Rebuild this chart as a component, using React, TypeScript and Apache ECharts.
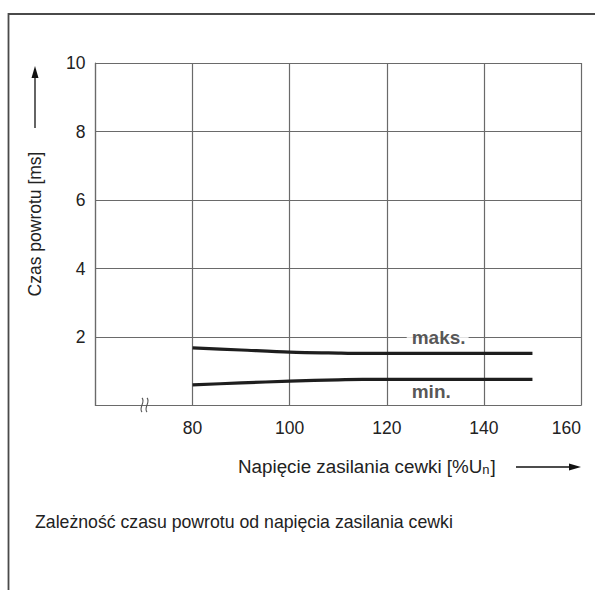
import React, { useEffect, useRef } from "react";
import * as echarts from "echarts";

const xTicks = [60, 80, 100, 120, 140, 160];
const yTicks = [0, 2, 4, 6, 8, 10];
const maxSeries: [number, number][] = [
  [80, 1.68], [90, 1.62], [100, 1.56], [110, 1.53], [115, 1.52], [150, 1.52],
];
const minSeries: [number, number][] = [
  [80, 0.6], [90, 0.66], [100, 0.71], [110, 0.75], [115, 0.76], [150, 0.76],
];
const curveLabels: [number, number, string][] = [
  [124.0, 2.0, "maks."],
  [124.0, 0.4, "min."],
];
const yTitle = "Czas powrotu [ms]";
const xTitleMain = "Napięcie zasilania cewki [%U";
const xTitleSub = "n";
const xTitleEnd = "]";
const caption = "Zależność czasu powrotu od napięcia zasilania cewki";

const FONT = "'Liberation Sans', Arial, sans-serif";

export default function App() {
  const ref = useRef<HTMLDivElement>(null);
  useEffect(() => {
    const chart = echarts.init(ref.current!, null, { renderer: "svg" });
    const gridL = 95.5, gridT = 63, gridR = 581, gridB = 405.5;
    chart.setOption({
      animation: false,
      backgroundColor: "#fff",
      grid: { left: gridL, top: gridT, width: gridR - gridL, height: gridB - gridT },
      xAxis: {
        type: "value",
        min: xTicks[0],
        max: xTicks[xTicks.length - 1],
        interval: 20,
        axisLine: { show: true, lineStyle: { color: "#6a6a6a", width: 1.2 } },
        axisTick: { show: false },
        splitLine: { show: true, lineStyle: { color: "#6a6a6a", width: 1.2 } },
        axisLabel: {
          color: "#222",
          fontFamily: FONT,
          fontSize: 17.5,
          margin: 13,
          alignMaxLabel: "right",
          formatter: (v: number) => (v === xTicks[0] ? "" : String(v)),
        },
      },
      yAxis: {
        type: "value",
        min: yTicks[0],
        max: yTicks[yTicks.length - 1],
        interval: 2,
        axisLine: { show: true, lineStyle: { color: "#6a6a6a", width: 1.2 } },
        axisTick: { show: false },
        splitLine: { show: true, lineStyle: { color: "#6a6a6a", width: 1.2 } },
        axisLabel: {
          color: "#222",
          fontFamily: FONT,
          fontSize: 17.5,
          margin: 10,
          formatter: (v: number) => (v === yTicks[0] ? "" : String(v)),
        },
      },
      series: [
        {
          type: "line",
          data: maxSeries,
          smooth: 0.3,
          symbol: "none",
          lineStyle: { color: "#1e1e1e", width: 3.2 },
        },
        {
          type: "line",
          data: minSeries,
          smooth: 0.3,
          symbol: "none",
          lineStyle: { color: "#1e1e1e", width: 3.2 },
        },
        {
          type: "scatter",
          data: curveLabels,
          symbolSize: 1,
          itemStyle: { color: "rgba(0,0,0,0)" },
          z: 5,
          label: {
            show: true,
            position: "right",
            distance: 0,
            formatter: (p: any) => p.data[2],
            color: "#2a2a2a",
            fontFamily: FONT,
            fontWeight: "bold",
            fontSize: 19,
            backgroundColor: "#fff",
            padding: [1, 3, 1, 5],
          },
        },
      ],
      graphic: [
        {
          type: "rect",
          shape: { x: 8.5, y: 14, width: 700, height: 700 },
          style: { fill: "none", stroke: "#4a4a4a", lineWidth: 1.8 },
          z: -1,
        },
        // break mark
        {
          type: "bezierCurve",
          shape: { x1: 142, y1: 398, cpx1: 146, cpy1: 402, cpx2: 138, cpy2: 408, x2: 142, y2: 412 },
          style: { stroke: "#555", lineWidth: 1.1, fill: "none" },
          z: 10,
        },
        {
          type: "bezierCurve",
          shape: { x1: 147, y1: 398, cpx1: 151, cpy1: 402, cpx2: 143, cpy2: 408, x2: 147, y2: 412 },
          style: { stroke: "#555", lineWidth: 1.1, fill: "none" },
          z: 10,
        },
        // y title + arrow
        {
          type: "text",
          x: 35,
          y: 224,
          rotation: Math.PI / 2,
          style: {
            text: yTitle,
            fill: "#222",
            font: `17.5px ${FONT}`,
            align: "center",
            verticalAlign: "middle",
          },
        },
        {
          type: "line",
          shape: { x1: 35, y1: 128, x2: 35, y2: 76 },
          style: { stroke: "#111", lineWidth: 1.3 },
        },
        {
          type: "polygon",
          shape: { points: [[35, 66], [31.5, 78], [38.5, 78]] },
          style: { fill: "#111" },
        },
        // x title + arrow
        {
          type: "text",
          x: 238,
          y: 466,
          style: {
            text: `{m|${xTitleMain}}{s|${xTitleSub}}{m|${xTitleEnd}}`,
            align: "left",
            verticalAlign: "middle",
            rich: {
              m: { fill: "#222", fontFamily: FONT, fontSize: 18.8 },
              s: { fill: "#222", fontFamily: FONT, fontSize: 13, padding: [6, 1, 0, 0] },
            },
          },
        },
        {
          type: "line",
          shape: { x1: 516, y1: 467, x2: 570, y2: 467 },
          style: { stroke: "#111", lineWidth: 1.3 },
        },
        {
          type: "polygon",
          shape: { points: [[581, 467], [569, 463.5], [569, 470.5]] },
          style: { fill: "#111" },
        },
        // caption
        {
          type: "text",
          x: 35,
          y: 522,
          style: {
            text: caption,
            fill: "#222",
            font: `17.7px ${FONT}`,
            align: "left",
            verticalAlign: "middle",
          },
        },
      ],
    });
    return () => chart.dispose();
  }, []);
  return (
    <div
      ref={ref}
      style={{ position: "fixed", left: 0, top: 0, width: 595, height: 590 }}
    />
  );
}
